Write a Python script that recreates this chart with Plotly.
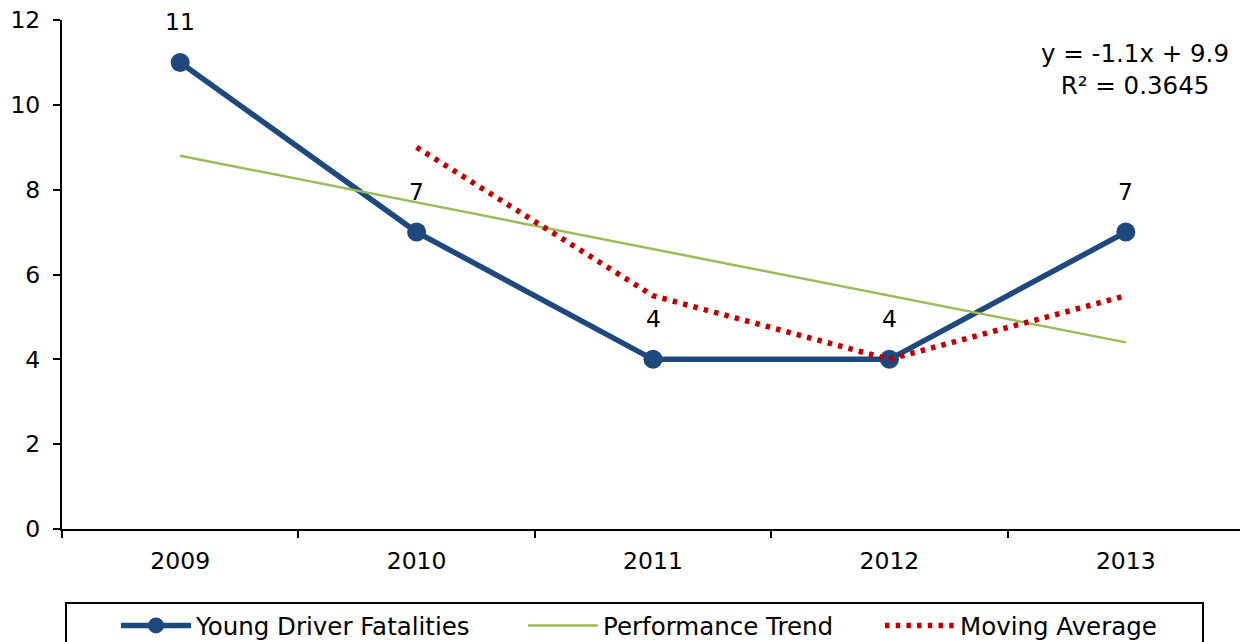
import numpy as np
import plotly.graph_objects as go

# ---- data ----
years = ["2009", "2010", "2011", "2012", "2013"]
fatalities = [11, 7, 4, 4, 7]
moving_avg_years = ["2010", "2011", "2012", "2013"]
moving_avg = [9, 5.5, 4, 5.5]
y_ticks = [0, 2, 4, 6, 8, 10, 12]

# linear trend (Excel-style, x = 1..n)
xn = np.arange(1, len(years) + 1)
slope, intercept = np.polyfit(xn, fatalities, 1)
trend = slope * xn + intercept
obs = np.array(fatalities, dtype=float)
r2 = 1 - ((obs - trend) ** 2).sum() / ((obs - obs.mean()) ** 2).sum()
eq_text = f"y = {slope:.1f}x + {intercept:.1f}<br>R² = {r2:.4f}"

FONT = "DejaVu Sans"
FS = 23.5
FS_TXT = 24.5
NAVY = "#1F497D"
GREEN = "#9BBB59"
RED = "#C00000"

# the page body adds an 8px margin, so the figure is drawn 8px in from the corner
OFF = 8
W, H = 1248 - OFF, 642 - OFF
# plot area in reference-pixel coordinates
PX0, PX1, PY0, PY1 = 62, 1244, 20, 529
L, R, T, B = PX0 - OFF, W - (PX1 - OFF), PY0 - OFF, H - (PY1 - OFF)
PW, PH = W - L - R, H - T - B


def fx(px):  # reference x pixel -> paper fraction
    return (px - OFF - L) / PW


def fy(py):  # reference y pixel -> paper fraction
    return (H - B - (py - OFF)) / PH


fig = go.Figure()
fig.add_trace(go.Scatter(
    x=years, y=fatalities, name="Young Driver Fatalities",
    mode="lines+markers",
    line=dict(color=NAVY, width=5.5),
    marker=dict(color=NAVY, size=19),
    legend="legend",
))
fig.add_trace(go.Scatter(
    x=years, y=trend, name="Performance Trend",
    mode="lines", line=dict(color=GREEN, width=2.5),
    legend="legend2",
))
fig.add_trace(go.Scatter(
    x=moving_avg_years, y=moving_avg, name="Moving Average",
    mode="lines", line=dict(color=RED, width=5.5, dash="4.5px,6.2px"),
    legend="legend3",
))

for i, v in enumerate(fatalities):
    fig.add_annotation(x=i, y=v, text=str(v), showarrow=False, yshift=40,
                       font=dict(family=FONT, size=FS, color="black"))

fig.add_annotation(xref="paper", yref="paper", x=fx(1135), y=fy(69),
                   xanchor="center", yanchor="middle", text=eq_text,
                   showarrow=False, align="center",
                   font=dict(family=FONT, size=FS_TXT, color="black"))

# legend frame
fig.add_shape(type="rect", xref="paper", yref="paper",
              x0=fx(66), x1=fx(1203), y0=fy(660), y1=fy(603),
              line=dict(color="black", width=2), fillcolor="rgba(0,0,0,0)")

leg_common = dict(orientation="h", xref="container", yref="container",
                  xanchor="left", yanchor="top", y=1 - (603 - OFF) / H,
                  itemwidth=70, bgcolor="rgba(0,0,0,0)", borderwidth=0,
                  font=dict(family=FONT, size=FS_TXT, color="black"))

fig.update_layout(
    width=W, height=H,
    margin=dict(l=L, r=R, t=T, b=B, autoexpand=False),
    paper_bgcolor="white", plot_bgcolor="white",
    font=dict(family=FONT, size=FS, color="black"),
    showlegend=True,
    legend=dict(leg_common, x=(116 - OFF) / W),
    legend2=dict(leg_common, x=(523 - OFF) / W),
    legend3=dict(leg_common, x=(880 - OFF) / W),
    xaxis=dict(type="category", categoryorder="array", categoryarray=years,
               range=[-0.5, len(years) - 0.5], tickson="boundaries",
               ticks="outside", ticklen=7, tickwidth=1.5, tickcolor="black",
               showline=True, linecolor="black", linewidth=2,
               showgrid=False, zeroline=False, ticklabelstandoff=10,
               ticklabeloverflow="allow"),
    yaxis=dict(range=[0, 12], tickvals=y_ticks, ticks="outside", ticklen=7,
               tickwidth=1.5, tickcolor="black", showline=True,
               linecolor="black", linewidth=2, showgrid=False,
               zeroline=False, ticklabelstandoff=8,
               ticklabeloverflow="allow"),
    xaxis2=dict(overlaying="x", anchor="y", side="bottom", type="linear",
                range=[-0.5, len(years) - 0.5],
                tickvals=list(np.arange(len(years) + 1) - 0.5),
                ticks="inside", ticklen=7, tickwidth=1.5, tickcolor="black",
                showticklabels=False, showline=False, showgrid=False,
                zeroline=False),
    yaxis2=dict(overlaying="y", anchor="x", side="left", range=[0, 12],
                tickvals=y_ticks, ticks="inside", ticklen=7, tickwidth=1.5,
                tickcolor="black", showticklabels=False, showline=False,
                showgrid=False, zeroline=False),
)

fig.write_html("out.html")
